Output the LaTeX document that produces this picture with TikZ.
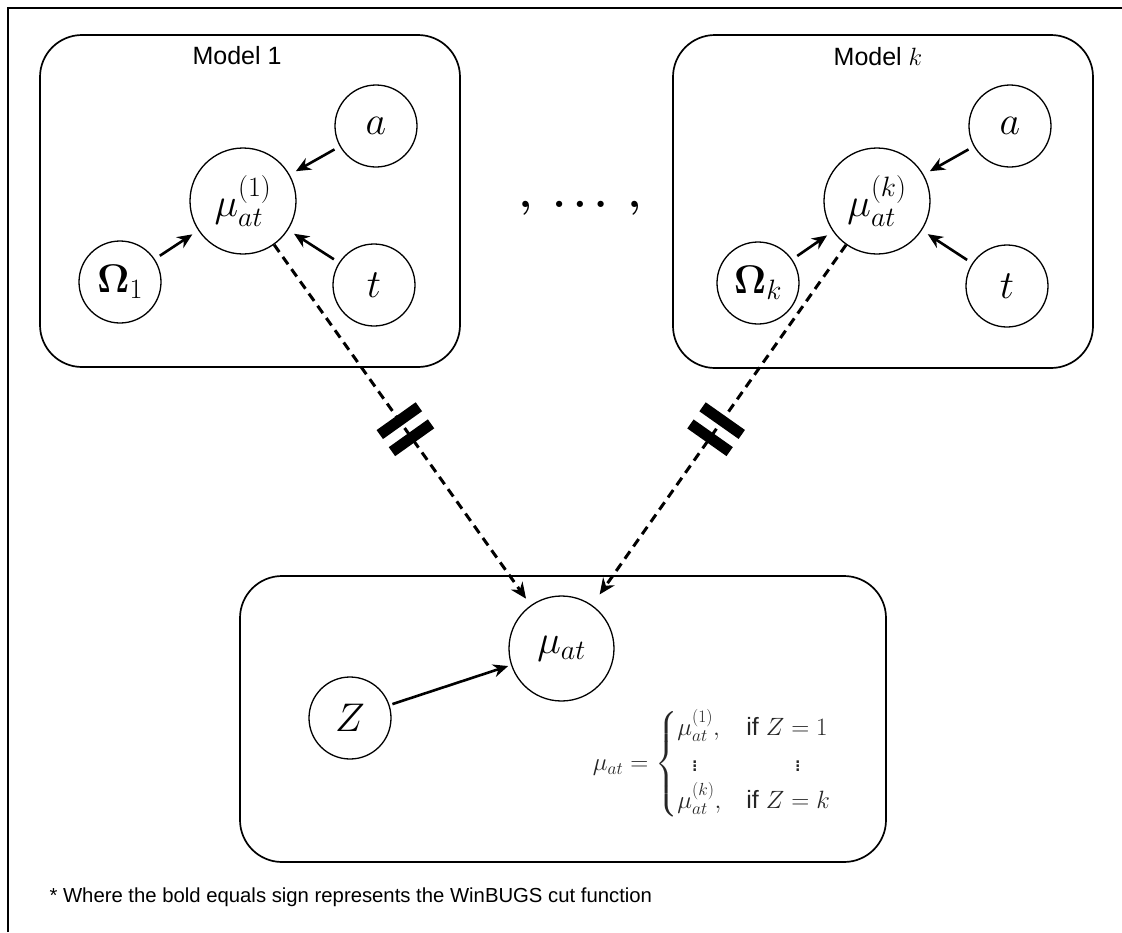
\RequirePackage{fix-cm}
\documentclass[tikz,border=0pt]{standalone}
\usepackage{amsmath}
\usepackage{amssymb}
\usepackage[no-math]{fontspec}
\setmainfont{Liberation Sans}
\usetikzlibrary{arrows.meta,decorations.markings}
\tikzset{
  frame/.style={draw, line width=1.7pt, rounded corners=42pt, inner sep=0pt},
  bigc/.style={circle, draw, line width=1.3pt, minimum size=106pt, inner sep=0pt, font=\fontsize{40}{46}\selectfont},
  smallc/.style={circle, draw, line width=1.3pt, minimum size=82pt, inner sep=0pt, font=\fontsize{40}{46}\selectfont},
  arr/.style={-{Stealth[length=15pt,width=13pt]}, line width=2.6pt, shorten >=7pt, shorten <=6pt},
  cutarr/.style={-{Stealth[length=16pt,width=14pt]}, line width=3pt, dash pattern=on 9pt off 6pt},
  title/.style={font=\fontsize{25}{30}\selectfont},
  cutmark at/.style={postaction={decorate}, decoration={markings, mark=at position #1 with {\fill (-16pt,-24pt) rectangle (-5pt,24pt); \fill (5pt,-24pt) rectangle (16pt,24pt);}}}
}
\begin{document}
\begin{tikzpicture}[x=1pt,y=-1pt]
\useasboundingbox (0,0) rectangle (1122,932);
% outer frame (top and left edges)
\draw[line width=1.7pt] (8,932) -- (8,8) -- (1122,8);

% boxes
\node[frame, minimum width=420pt, minimum height=332pt] (box1) at (250,201) {};
\node[frame, minimum width=420pt, minimum height=333pt] (boxk) at (883,201.5) {};
\node[frame, minimum width=646pt, minimum height=286pt] (boxb) at (563,719) {};

% titles
\node[title] (title1) at (237,56) {Model 1};
\node[title] (titlek) at (878,57) {Model $k$};

% model 1
\node[bigc] (mu1) at (243,201) {$\mu_{at}^{(1)}$};
\node[smallc] (a1) at (376,126) {$a$};
\node[smallc] (om1) at (120,282) {$\mathbf{\Omega}_1$};
\node[smallc] (t1) at (374,285) {$t$};

% model k
\node[bigc] (muk) at (877,201) {$\mu_{at}^{(k)}$};
\node[smallc] (ak) at (1010,126) {$a$};
\node[smallc] (omk) at (758,283) {$\mathbf{\Omega}_k$};
\node[smallc] (tk) at (1007,286) {$t$};

% ellipsis
\node[font=\fontsize{40}{46}\selectfont, anchor=base] (ell) at (580,207) {$\boldsymbol{,}\hspace{21pt}\boldsymbol{.}\hspace{8pt}\boldsymbol{.}\hspace{8pt}\boldsymbol{.}\hspace{21pt}\boldsymbol{,}$};

% bottom
\node[bigc, minimum size=105pt] (mu) at (561.5,648.5) {$\mu_{at}$};
\node[smallc] (Z) at (350,718) {$Z$};
\node[font=\fontsize{25}{30}\selectfont, text=black!85] (formula) at (712,764)
  {$\mu_{at} = \begin{cases} \mu_{at}^{(1)}, & \text{if } Z = 1\\ \;\;\vdots & \hspace{48pt}\vdots \\ \mu_{at}^{(k)}, & \text{if } Z = k\end{cases}$};

% arrows
\draw[arr] (a1) -- (mu1);
\draw[arr] (om1) -- (mu1);
\draw[arr] (t1) -- (mu1);
\draw[arr] (ak) -- (muk);
\draw[arr] (omk) -- (muk);
\draw[arr] (tk) -- (muk);
\draw[arr, shorten >=3pt, shorten <=3pt] (Z) -- (mu);

% cut connectors
\draw[cutarr, shorten >=8pt] (mu1) -- (mu);
\draw[cutarr, shorten >=13pt] (muk) -- (mu);
\path[cutmark at=0.51] (mu1.center) -- (mu.center);
\path[cutmark at=0.51] (muk.center) -- (mu.center);

% footnote
\node[anchor=west, font=\fontsize{20.3}{24}\selectfont] (note) at (46,897) {* Where the bold equals sign represents the WinBUGS cut function};
\end{tikzpicture}
\end{document}
